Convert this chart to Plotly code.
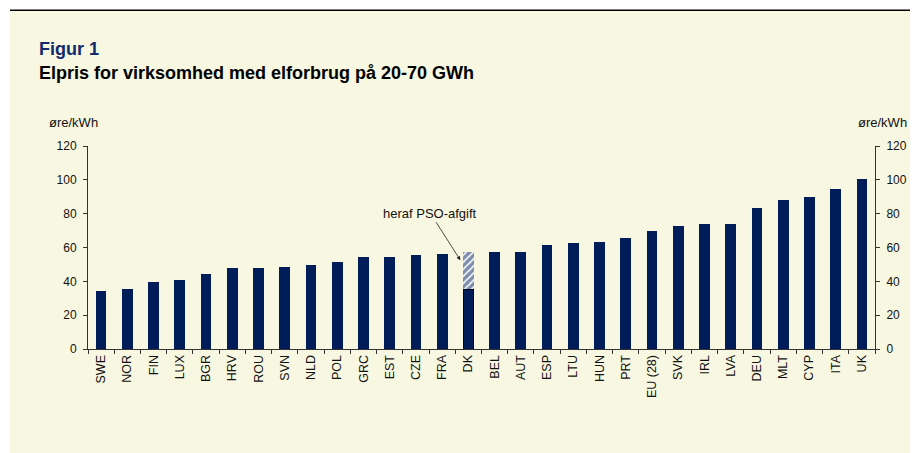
import plotly.graph_objects as go

countries = ["SWE", "NOR", "FIN", "LUX", "BGR", "HRV", "ROU", "SVN", "NLD", "POL",
             "GRC", "EST", "CZE", "FRA", "DK", "BEL", "AUT", "ESP", "LTU", "HUN",
             "PRT", "EU (28)", "SVK", "IRL", "LVA", "DEU", "MLT", "CYP", "ITA", "UK"]
prices = [34.5, 35.3, 39.6, 40.8, 44.5, 48.0, 48.0, 48.4, 49.6, 51.4,
          54.2, 54.6, 55.3, 55.9, 57.4, 57.4, 57.6, 61.7, 62.9, 63.1,
          65.9, 69.8, 72.9, 73.7, 73.7, 83.5, 87.8, 89.7, 94.4, 100.4]
pso_country = "DK"
pso_value = 22.0

y_ticks = [0, 20, 40, 60, 80, 100, 120]
unit = "øre/kWh"
title_fig = "Figur 1"
title_main = "Elpris for virksomhed med elforbrug på 20-70 GWh"
pso_label = "heraf PSO-afgift"

NAVY = "#001C59"
BEIGE = "#F8F7E1"
TXT = "#111111"
FONT = "Arial, Liberation Sans, sans-serif"

base_vals = [p - pso_value if c == pso_country else p for c, p in zip(countries, prices)]
pso_vals = [pso_value if c == pso_country else 0 for c in countries]
line_w = [0.8 if c == pso_country else 0 for c in countries]

OFF = 8  # page body margin
W, H = 918 - OFF, 453 - OFF
ml, mr, mt, mb = 88 - OFF, 43, 145.5 - OFF, 104
pw, ph = W - ml - mr, H - mt - mb

def px2x(px):
    return (px - OFF - ml) / pw

def py2y(py):
    return (H - mb - (py - OFF)) / ph

fig = go.Figure()
fig.add_trace(go.Bar(x=countries, y=base_vals, marker=dict(color=NAVY, line=dict(color="black", width=line_w)),
                     hoverinfo="skip", showlegend=False))
fig.add_trace(go.Bar(x=countries, y=pso_vals,
                     marker=dict(color=NAVY, line=dict(width=0),
                                 pattern=dict(shape="/", fgcolor=NAVY, bgcolor="white", size=5, solidity=0.7)),
                     hoverinfo="skip", showlegend=False))
# invisible trace for right axis
fig.add_trace(go.Scatter(x=countries, y=prices, yaxis="y2", mode="none", hoverinfo="skip", showlegend=False))

axis_common = dict(range=[0, 120], tickvals=y_ticks, ticks="outside", ticklen=4, tickcolor="#333",
                   showline=True, linecolor="#333", linewidth=1, showgrid=False, zeroline=False,
                   tickfont=dict(family=FONT, size=12, color=TXT), fixedrange=True)

fig.update_layout(
    width=W, height=H,
    margin=dict(l=ml, r=mr, t=mt, b=mb),
    paper_bgcolor="white", plot_bgcolor=BEIGE,
    barmode="stack", bargap=0.59,
    font=dict(family=FONT, color=TXT),
    xaxis=dict(tickangle=-90, ticks="outside", ticklen=4, tickcolor="#333", tickson="boundaries",
               showline=True, linecolor="#333", linewidth=1, showgrid=False,
               tickfont=dict(family=FONT, size=12.5, color=TXT), fixedrange=True),
    yaxis=dict(**axis_common, side="left", ticklabelstandoff=4),
    yaxis2=dict(**axis_common, side="right", overlaying="y", ticklabelstandoff=4),
    shapes=[
        dict(type="rect", xref="paper", yref="paper", x0=px2x(10), x1=px2x(930), y0=py2y(470), y1=py2y(10),
             fillcolor=BEIGE, line=dict(width=0), layer="below"),
        dict(type="line", xref="paper", yref="paper", x0=px2x(10), x1=px2x(930), y0=py2y(9.5), y1=py2y(9.5),
             line=dict(color="black", width=1.5)),
    ],
    annotations=[
        dict(text=f"<b>{title_fig}</b>", xref="paper", yref="paper", x=px2x(37), y=py2y(48),
             xanchor="left", yanchor="middle", showarrow=False, font=dict(family=FONT, size=18, color="#112B6E")),
        dict(text=f"<b>{title_main}</b>", xref="paper", yref="paper", x=px2x(37), y=py2y(72),
             xanchor="left", yanchor="middle", showarrow=False, font=dict(family=FONT, size=18, color="black")),
        dict(text=unit, xref="paper", yref="paper", x=px2x(47), y=py2y(122),
             xanchor="left", yanchor="middle", showarrow=False, font=dict(family=FONT, size=13, color=TXT)),
        dict(text=unit, xref="paper", yref="paper", x=px2x(909), y=py2y(122),
             xanchor="right", yanchor="middle", showarrow=False, font=dict(family=FONT, size=13, color=TXT)),
        dict(text=pso_label, x=pso_country, y=52.5, xref="x", yref="y", xshift=-8,
             ax=-30, ay=-47, showarrow=True, arrowhead=2, arrowsize=1, arrowwidth=0.8, arrowcolor="#222",
             font=dict(family=FONT, size=13, color=TXT)),
    ],
)

fig.write_html("out.html")
